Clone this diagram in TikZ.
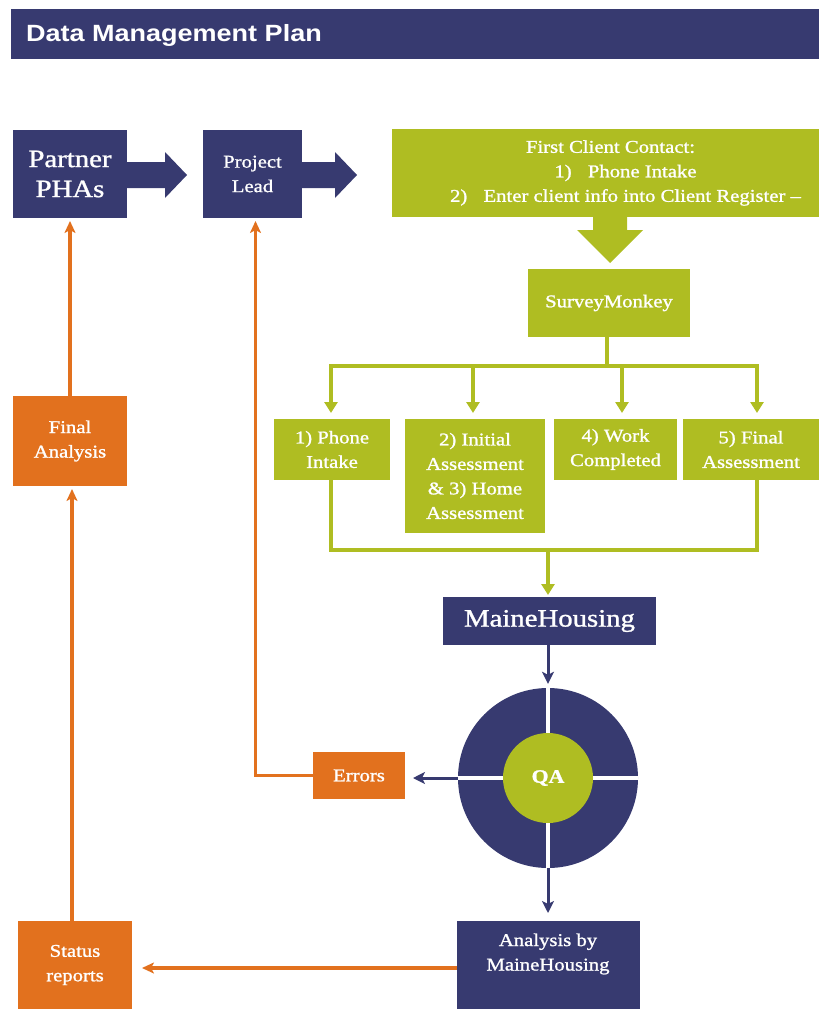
\documentclass[tikz,border=0pt]{standalone}
\usepackage{fontspec}
\setmainfont{Liberation Serif}[FakeStretch=1.15,FakeBold=1.2]
\newfontfamily\titlefont{Liberation Sans}[FakeStretch=1.15]
\usetikzlibrary{arrows.meta,calc}
\definecolor{dmnavy}{RGB}{55,58,112}
\definecolor{dmgreen}{RGB}{175,189,34}
\definecolor{dmorange}{RGB}{226,113,30}
\tikzset{
  base/.style={inner sep=0pt, outer sep=0pt, align=center, text=white, font=\fontsize{18}{24.5}\selectfont},
  navybox/.style={base, fill=dmnavy},
  greenbox/.style={base, fill=dmgreen},
  orangebox/.style={base, fill=dmorange},
  gline/.style={draw=dmgreen, line width=4pt, line join=miter},
  garrow/.style={gline, -{Triangle[length=11pt,width=13pt]}},
  narrow/.style={draw=dmnavy, line width=3pt, -{Stealth[length=12pt,width=12pt,inset=3pt]}},
  oline/.style={draw=dmorange, line width=3.5pt, line join=miter},
  oarrow/.style={oline, -{Stealth[length=12pt,width=11pt,inset=3pt]}},
}
\begin{document}
\begin{tikzpicture}[x=1pt,y=-1pt]
\useasboundingbox (0,0) rectangle (819,1009);

% title bar
\node[navybox, minimum width=808pt, minimum height=50pt] (titlebar) at (415,34) {};
\node[base, anchor=west, font=\titlefont\fontsize{23.5}{26}\selectfont\bfseries] (title) at (26,35) {Data Management Plan};

% top row
\node[navybox, minimum width=114pt, minimum height=88pt, font=\fontsize{25}{30}\selectfont] (pha) at (70,174) {Partner\\PHAs};
\node[navybox, minimum width=99pt, minimum height=88pt] (lead) at (252.5,174) {Project\\Lead};
\node[greenbox, minimum width=427pt, minimum height=88pt] (fcc) at (605.5,173)
  {\hspace*{10pt}First Client Contact:\\\hspace*{40pt}1)\hspace{0.9em}Phone Intake\\\hspace*{40pt}2)\hspace{0.9em}Enter client info into Client Register --};

% block arrows
\fill[dmnavy] ($(pha.east)+(0,-12)$) -- ++(38,0) -- ++(0,-10) -- ($(pha.east)+(60,1)$)
  -- ($(pha.east)+(38,24)$) -- ++(0,-10) -- ($(pha.east)+(0,14)$) -- cycle;
\fill[dmnavy] ($(lead.east)+(0,-12)$) -- ++(33,0) -- ++(0,-10) -- ($(lead.east)+(55,1)$)
  -- ($(lead.east)+(33,24)$) -- ++(0,-10) -- ($(lead.east)+(0,14)$) -- cycle;

\node[greenbox, minimum width=162pt, minimum height=68pt] (sm) at (609,303) {SurveyMonkey};
\fill[dmgreen] ($(fcc.south)+(-12.5,0)$) -- ++(34,0) -- ++(0,13) -- ++(16,0)
  -- ($(fcc.south)+(4.5,46)$) -- ($(fcc.south)+(-28.5,13)$) -- ++(16,0) -- cycle;

% second row boxes
\node[greenbox, minimum width=116pt, minimum height=61pt] (b1) at (332,449.5) {1) Phone\\Intake};
\node[greenbox, minimum width=140pt, minimum height=114pt] (b2) at (475,476) {2) Initial\\Assessment\\\& 3) Home\\Assessment};
\node[greenbox, minimum width=123pt, minimum height=61pt] (b3) at (615.5,449.5) {4) Work\\Completed};
\node[greenbox, minimum width=136pt, minimum height=61pt] (b4) at (751,449.5) {5) Final\\Assessment};

\coordinate (bus) at (607,366);
\coordinate (t1) at (331,366);
\coordinate (t2) at (473,366);
\coordinate (t3) at (622,366);
\coordinate (t4) at (757,366);
\draw[gline] (sm.south -| bus) -- (bus);
\draw[gline] ($(t1)+(-2,0)$) -- ($(t4)+(2,0)$);
\draw[garrow, shorten >=6pt] (t1) -- (t1 |- b1.north);
\draw[garrow, shorten >=6pt] (t2) -- (t2 |- b2.north);
\draw[garrow, shorten >=6pt] (t3) -- (t3 |- b3.north);
\draw[garrow, shorten >=6pt] (t4) -- (t4 |- b4.north);

\coordinate (m1) at (331,550);
\coordinate (m4) at (757,550);
\coordinate (mj) at (548,550);
\draw[gline] (m1 |- b1.south) -- (m1) -- (m4) -- (m4 |- b4.south);

\node[navybox, minimum width=213pt, minimum height=48pt, font=\fontsize{25}{30}\selectfont] (mh) at (549.5,621) {MaineHousing};
\draw[garrow, shorten >=2pt] (mj) -- (mj |- mh.north);

% QA wheel
\node[circle, fill=dmnavy, minimum size=180pt, inner sep=0pt] (wheel) at (548,778) {};
\draw[white, line width=4.5pt] (wheel.north) -- (wheel.south);
\draw[white, line width=4.5pt] (wheel.west) -- (wheel.east);
\node[base, circle, fill=dmgreen, minimum size=90pt, font=\fontsize{19}{22}\selectfont\bfseries] (qa) at (548,778) {QA};

\draw[narrow, shorten >=4pt] (wheel.north |- mh.south) -- (wheel.north);

\node[orangebox, minimum width=92pt, minimum height=47pt] (errors) at (359,775.5) {Errors};
\draw[narrow, shorten >=8pt] (wheel.west) -- (wheel.west -| errors.east);
\draw[oarrow, shorten >=3pt] (errors.west) -| ($(lead.south)+(3,0)$);

% bottom
\node[navybox, minimum width=183pt, minimum height=88pt] (ana) at (548,965) {};
\node[base] (anatext) at ($(ana.north)+(0,33)$) {Analysis by\\MaineHousing};
\draw[narrow, shorten >=8pt] (wheel.south) -- (ana.north);

\node[orangebox, minimum width=114pt, minimum height=88pt] (status) at (75,965) {Status\\reports};
\draw[oarrow, shorten >=10pt] (ana.west |- 0,968) -- (status.east |- 0,968);

\node[orangebox, minimum width=114pt, minimum height=90pt] (final) at (70,441) {Final\\Analysis};
\draw[oarrow, shorten >=3pt] ($(status.north)+(-3,0)$) -- ($(final.south)+(2,0)$);
\draw[oarrow, shorten >=3pt] (final.north) -- (pha.south);
\end{tikzpicture}
\end{document}
